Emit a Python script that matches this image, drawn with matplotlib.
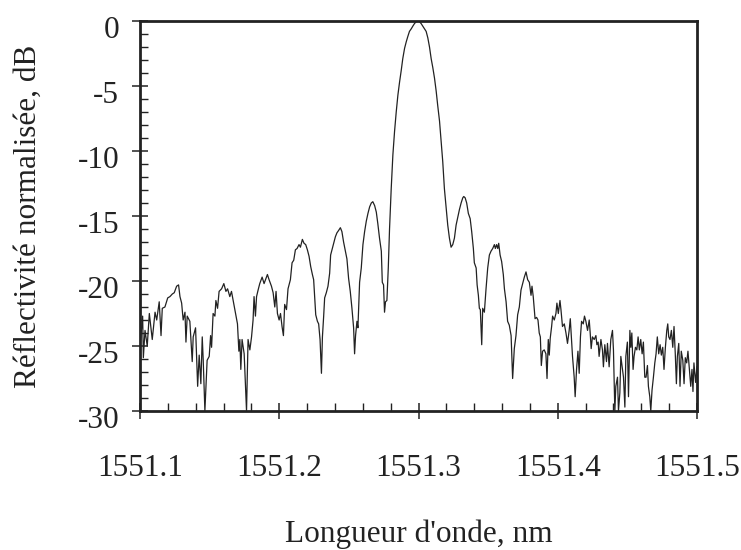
import matplotlib
matplotlib.use("Agg")
import matplotlib.pyplot as plt
import matplotlib.transforms as mtransforms
from matplotlib.ticker import MultipleLocator, FormatStrFormatter

plt.rcParams['font.family'] = ['Liberation Serif', 'DejaVu Serif']
plt.rcParams['axes.unicode_minus'] = False

# wavelength (nm) and normalised reflectivity (dB)
wavelength = [
    1551.1000, 1551.1019, 1551.1024, 1551.1036, 1551.1052, 1551.1067, 1551.1088, 1551.1108,
    1551.1120, 1551.1138, 1551.1151, 1551.1160, 1551.1179, 1551.1199, 1551.1215, 1551.1232,
    1551.1246, 1551.1263, 1551.1277, 1551.1287, 1551.1299, 1551.1310, 1551.1323, 1551.1330,
    1551.1339, 1551.1358, 1551.1375, 1551.1382, 1551.1399, 1551.1414, 1551.1425, 1551.1437,
    1551.1447, 1551.1454, 1551.1466, 1551.1482, 1551.1497, 1551.1507, 1551.1514, 1551.1525,
    1551.1538, 1551.1545, 1551.1557, 1551.1568, 1551.1586, 1551.1602, 1551.1617, 1551.1629,
    1551.1645, 1551.1657, 1551.1681, 1551.1700, 1551.1710, 1551.1717, 1551.1724, 1551.1733,
    1551.1748, 1551.1765, 1551.1776, 1551.1789, 1551.1801, 1551.1812, 1551.1819, 1551.1829,
    1551.1837, 1551.1848, 1551.1860, 1551.1877, 1551.1891, 1551.1901, 1551.1915, 1551.1927,
    1551.1944, 1551.1956, 1551.1968, 1551.1977, 1551.1987, 1551.1999, 1551.2009, 1551.2020,
    1551.2030, 1551.2039, 1551.2052, 1551.2063, 1551.2080, 1551.2092, 1551.2104, 1551.2116,
    1551.2128, 1551.2142, 1551.2152, 1551.2166, 1551.2178, 1551.2190, 1551.2202, 1551.2214,
    1551.2226, 1551.2238, 1551.2247, 1551.2254, 1551.2262, 1551.2274, 1551.2283, 1551.2293,
    1551.2303, 1551.2310, 1551.2319, 1551.2326, 1551.2338, 1551.2350, 1551.2362, 1551.2369,
    1551.2381, 1551.2391, 1551.2403, 1551.2414, 1551.2427, 1551.2439, 1551.2450, 1551.2462,
    1551.2475, 1551.2486, 1551.2498, 1551.2510, 1551.2522, 1551.2534, 1551.2541, 1551.2548,
    1551.2558, 1551.2565, 1551.2577, 1551.2589, 1551.2601, 1551.2613, 1551.2625, 1551.2637,
    1551.2649, 1551.2661, 1551.2672, 1551.2685, 1551.2697, 1551.2708, 1551.2720, 1551.2733,
    1551.2740, 1551.2749, 1551.2756, 1551.2763, 1551.2773, 1551.2783, 1551.2792, 1551.2804,
    1551.2816, 1551.2828, 1551.2840, 1551.2852, 1551.2864, 1551.2876, 1551.2887, 1551.2900,
    1551.2912, 1551.2923, 1551.2935, 1551.2948, 1551.2959, 1551.2971, 1551.2984, 1551.2995,
    1551.3007, 1551.3019, 1551.3031, 1551.3043, 1551.3055, 1551.3067, 1551.3079, 1551.3091,
    1551.3103, 1551.3115, 1551.3127, 1551.3138, 1551.3151, 1551.3163, 1551.3174, 1551.3186,
    1551.3199, 1551.3210, 1551.3222, 1551.3234, 1551.3246, 1551.3258, 1551.3270, 1551.3282,
    1551.3294, 1551.3306, 1551.3318, 1551.3325, 1551.3335, 1551.3346, 1551.3358, 1551.3371,
    1551.3382, 1551.3394, 1551.3401, 1551.3414, 1551.3421, 1551.3430, 1551.3437, 1551.3444,
    1551.3454, 1551.3461, 1551.3473, 1551.3485, 1551.3497, 1551.3509, 1551.3521, 1551.3533,
    1551.3545, 1551.3552, 1551.3561, 1551.3569, 1551.3576, 1551.3586, 1551.3597, 1551.3609,
    1551.3617, 1551.3629, 1551.3640, 1551.3652, 1551.3665, 1551.3676, 1551.3688, 1551.3700,
    1551.3712, 1551.3724, 1551.3736, 1551.3748, 1551.3760, 1551.3772, 1551.3784, 1551.3796,
    1551.3808, 1551.3815, 1551.3824, 1551.3837, 1551.3848, 1551.3858, 1551.3867, 1551.3875,
    1551.3882, 1551.3891, 1551.3903, 1551.3915, 1551.3923, 1551.3932, 1551.3939, 1551.3946,
    1551.3956, 1551.3963, 1551.3975, 1551.3987, 1551.3994, 1551.4004, 1551.4016, 1551.4023,
    1551.4034, 1551.4047, 1551.4059, 1551.4070, 1551.4082, 1551.4090, 1551.4099, 1551.4106,
    1551.4118, 1551.4125, 1551.4135, 1551.4145, 1551.4154, 1551.4163, 1551.4171, 1551.4183,
    1551.4192, 1551.4202, 1551.4214, 1551.4226, 1551.4233, 1551.4240, 1551.4249, 1551.4262,
    1551.4274, 1551.4281, 1551.4290, 1551.4297, 1551.4310, 1551.4321, 1551.4328, 1551.4338,
    1551.4350, 1551.4357, 1551.4369, 1551.4381, 1551.4393, 1551.4400, 1551.4410, 1551.4417,
    1551.4429, 1551.4436, 1551.4446, 1551.4453, 1551.4465, 1551.4472, 1551.4482, 1551.4489,
    1551.4500, 1551.4508, 1551.4518, 1551.4525, 1551.4532, 1551.4541, 1551.4548, 1551.4558,
    1551.4568, 1551.4577, 1551.4586, 1551.4596, 1551.4606, 1551.4615, 1551.4625, 1551.4634,
    1551.4644, 1551.4651, 1551.4661, 1551.4668, 1551.4677, 1551.4687, 1551.4697, 1551.4706,
    1551.4715, 1551.4725, 1551.4735, 1551.4744, 1551.4754, 1551.4763, 1551.4773, 1551.4783,
    1551.4790, 1551.4797, 1551.4806, 1551.4816, 1551.4826, 1551.4835, 1551.4844, 1551.4852,
    1551.4859, 1551.4869, 1551.4878, 1551.4887, 1551.4898, 1551.4907, 1551.4916, 1551.4926,
    1551.4935, 1551.4945, 1551.4955, 1551.4964, 1551.4971, 1551.4978, 1551.4990, 1551.5000,
]
reflectivity = [
    -25.0, -22.7, -25.9, -23.8, -25.0, -22.5, -24.5, -22.4,
    -23.0, -21.6, -24.2, -22.1, -22.0, -21.3, -21.2, -21.0,
    -20.9, -20.4, -20.3, -21.2, -21.7, -23.0, -22.4, -24.7,
    -22.7, -23.1, -26.2, -24.3, -23.6, -28.1, -25.7, -27.9,
    -24.3, -26.1, -30.0, -26.1, -25.8, -24.2, -25.1, -22.5,
    -22.7, -21.5, -22.1, -20.8, -20.6, -20.2, -20.8, -20.6,
    -21.2, -20.8, -22.2, -23.3, -25.4, -24.5, -26.8, -24.5,
    -25.6, -30.0, -24.5, -25.3, -24.3, -23.0, -21.2, -22.7,
    -21.2, -20.7, -20.2, -19.7, -20.2, -19.9, -19.5, -19.9,
    -20.4, -20.9, -22.0, -20.8, -22.5, -23.0, -22.5, -23.5,
    -24.2, -21.8, -22.2, -20.6, -19.9, -18.6, -18.4, -17.6,
    -17.5, -17.2, -17.4, -16.8, -17.1, -17.2, -17.6, -18.1,
    -18.9, -19.5, -19.9, -21.2, -22.6, -23.1, -23.3, -24.5,
    -27.1, -24.3, -22.7, -21.3, -20.9, -20.4, -19.4, -18.0,
    -17.5, -17.1, -16.6, -16.3, -16.1, -15.9, -16.2, -17.0,
    -17.7, -18.3, -19.8, -20.8, -22.1, -23.6, -25.6, -24.2,
    -23.1, -23.6, -20.1, -19.0, -17.2, -16.2, -15.4, -14.8,
    -14.3, -14.0, -13.9, -14.2, -14.7, -15.6, -16.7, -17.7,
    -20.1, -20.3, -22.4, -21.6, -21.5, -19.0, -16.0, -12.9,
    -10.3, -8.5, -7.0, -5.7, -4.7, -3.8, -2.9, -2.1,
    -1.6, -1.2, -0.8, -0.6, -0.4, -0.2, -0.05, 0.0,
    -0.05, -0.2, -0.4, -0.6, -0.8, -1.3, -2.0, -2.9,
    -3.6, -4.4, -5.4, -6.5, -7.7, -9.3, -10.8, -12.9,
    -14.4, -15.7, -16.7, -17.4, -17.2, -16.7, -15.7, -15.1,
    -14.5, -14.0, -13.6, -13.5, -13.6, -14.0, -14.8, -15.2,
    -16.2, -17.5, -18.6, -19.0, -20.3, -21.1, -22.1, -22.2,
    -24.9, -22.1, -22.4, -20.6, -19.0, -18.0, -17.7, -17.5,
    -17.2, -17.5, -17.2, -17.5, -17.1, -18.0, -18.5, -19.5,
    -20.6, -21.6, -23.1, -23.4, -24.2, -27.5, -25.2, -24.2,
    -22.6, -22.0, -20.7, -20.2, -19.7, -19.3, -19.9, -20.1,
    -21.1, -20.4, -21.2, -22.9, -22.8, -23.0, -24.0, -24.3,
    -26.5, -25.4, -25.3, -25.6, -27.5, -24.5, -25.7, -24.4,
    -23.5, -22.7, -23.0, -22.5, -21.7, -22.5, -21.5, -22.2,
    -23.5, -23.3, -24.0, -24.8, -23.8, -22.9, -24.5, -25.8,
    -27.4, -28.9, -26.8, -25.4, -27.1, -24.3, -23.1, -23.3,
    -22.7, -23.1, -23.8, -23.0, -24.0, -25.2, -24.3, -24.5,
    -24.2, -24.9, -24.7, -25.8, -24.5, -25.3, -26.6, -24.9,
    -26.2, -24.8, -26.6, -24.5, -23.8, -25.3, -30.0, -28.1,
    -27.4, -30.0, -28.6, -25.8, -26.8, -27.4, -29.7, -25.8,
    -24.7, -28.9, -23.8, -25.1, -24.0, -26.8, -25.8, -25.1,
    -25.3, -24.3, -25.3, -24.5, -25.6, -24.7, -27.4, -27.4,
    -26.5, -28.1, -28.9, -30.0, -28.4, -27.4, -26.3, -25.6,
    -24.3, -25.6, -24.9, -25.7, -25.1, -26.8, -25.1, -23.8,
    -23.3, -24.3, -24.5, -23.8, -25.1, -23.5, -25.6, -27.9,
    -25.8, -24.8, -28.1, -25.4, -26.1, -27.9, -25.9, -26.3,
    -25.4, -26.8, -28.1, -26.8, -28.5, -26.3, -27.8, -26.6,
]

x_ticks = [1551.1, 1551.2, 1551.3, 1551.4, 1551.5]
y_ticks = [0, -5, -10, -15, -20, -25, -30]

fig = plt.figure(figsize=(7.41, 5.5), dpi=100)
ax = fig.add_axes([140 / 741, 139 / 550, 557 / 741, 390 / 550])

ax.plot(wavelength, reflectivity, color='#222222', lw=0.9)

ax.set_xlim(1551.1, 1551.5)
ax.set_ylim(-30, 0)
ax.set_xticks(x_ticks)
ax.set_yticks(y_ticks)
ax.xaxis.set_major_formatter(FormatStrFormatter('%.1f'))
ax.yaxis.set_major_formatter(FormatStrFormatter('%d'))
ax.xaxis.set_minor_locator(MultipleLocator(0.02))
ax.yaxis.set_minor_locator(MultipleLocator(1))

ax.tick_params(which='major', direction='inout', length=12, width=1.1,
               labelsize=22.5, colors='#222222')
ax.tick_params(axis='x', which='major', pad=25)
ax.tick_params(axis='y', which='major', pad=9)
ax.tick_params(which='minor', direction='in', length=6, width=1.0, colors='#222222')

# y tick labels sit a little below their ticks in the original
shift = mtransforms.ScaledTranslation(0, -4 / 72, fig.dpi_scale_trans)
for lab in ax.get_yticklabels():
    lab.set_transform(lab.get_transform() + shift)

for sp in ax.spines.values():
    sp.set_linewidth(2.0)
    sp.set_color('#222222')

ax.set_xlabel("Longueur d'onde, nm", fontsize=22.5, color='#222222')
ax.set_ylabel("Réflectivité normalisée, dB", fontsize=22.5, color='#222222')
ax.xaxis.set_label_coords(0.5, -0.278)
ax.yaxis.set_label_coords(-0.175, 0.5)

fig.savefig("out.png", dpi=100)
